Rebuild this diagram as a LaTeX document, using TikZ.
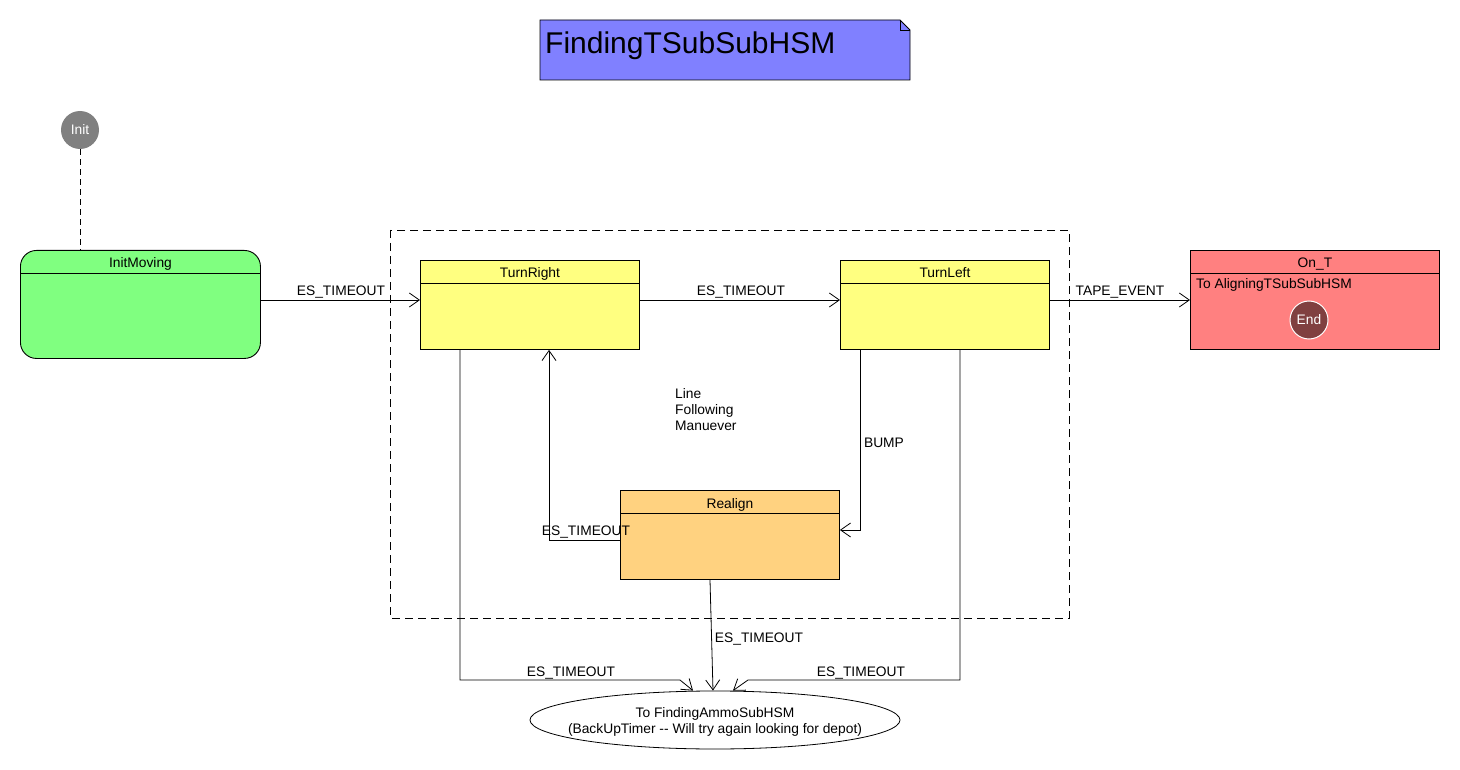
\documentclass[tikz,border=0pt]{standalone}
\usepackage{fontspec}
\setmainfont{Liberation Sans}
\usetikzlibrary{arrows.meta,shapes.geometric,calc}
\definecolor{notec}{HTML}{8080FF}
\definecolor{greenc}{HTML}{80FF80}
\definecolor{yellowc}{HTML}{FFFF80}
\definecolor{redc}{HTML}{FF8080}
\definecolor{orangec}{HTML}{FFD280}
\definecolor{initc}{HTML}{808080}
\definecolor{endc}{HTML}{804040}
\begin{document}
\begin{tikzpicture}[x=1pt,y=-1pt,
  lbl/.style={font=\fontsize{13.8}{16.5}\selectfont, inner sep=0pt, anchor=base},
  statebox/.style={draw, line width=0.9pt, inner sep=0pt, anchor=north west},
  arr/.style={-{Straight Barb[length=10pt,width=14pt,line width=0.8pt]}, line width=0.8pt},
  pseudo/.style={circle, inner sep=0pt, minimum size=38pt, text=white, font=\fontsize{13.8}{16}\selectfont}
]
\useasboundingbox (0,0) rectangle (1460,770);
\fill[white] (0,0) rectangle (1460,770);

% title note
\draw[fill=notec, line width=0.9pt] (540,20) -- (900,20) -- (910,30) -- (910,80) -- (540,80) -- cycle;
\draw[line width=0.7pt] (900,20) -- (900,30) -- (910,30);
\node[font=\fontsize{30}{36}\selectfont, anchor=base west, inner sep=0pt] (title) at (545,54) {FindingTSubSubHSM};

% region
\draw[line width=0.8pt, dash pattern=on 8pt off 5pt] (390,230) rectangle (1069,618);
\node[lbl, anchor=base west] (lfm1) at (675,398) {Line};
\node[lbl, anchor=base west] (lfm2) at (675,414) {Following};
\node[lbl, anchor=base west] (lfm3) at (675,430) {Manuever};

% init
\node[pseudo, fill=initc] (init) at (80,130) {Init};

% InitMoving
\node[statebox, fill=greenc, rounded corners=16pt, minimum width=240pt, minimum height=108pt] (im) at (20,250) {};
\draw[line width=0.8pt] ([yshift=-23pt]im.north west) -- ([yshift=-23pt]im.north east);
\node[lbl] (imh) at ([yshift=-18pt]im.north) {InitMoving};

% TurnRight
\node[statebox, fill=yellowc, minimum width=219pt, minimum height=89pt] (tr) at (420,260) {};
\draw[line width=0.8pt] ([yshift=-23pt]tr.north west) -- ([yshift=-23pt]tr.north east);
\node[lbl] (trh) at ([yshift=-18pt]tr.north) {TurnRight};

% TurnLeft
\node[statebox, fill=yellowc, minimum width=209pt, minimum height=89pt] (tl) at (840,260) {};
\draw[line width=0.8pt] ([yshift=-23pt]tl.north west) -- ([yshift=-23pt]tl.north east);
\node[lbl] (tlh) at ([yshift=-18pt]tl.north) {TurnLeft};

% On_T
\node[statebox, fill=redc, minimum width=249pt, minimum height=99pt] (ont) at (1190,250) {};
\draw[line width=0.8pt] ([yshift=-23pt]ont.north west) -- ([yshift=-23pt]ont.north east);
\node[lbl] (onth) at ([yshift=-18pt]ont.north) {On\_T};
\node[lbl, anchor=base west] (ontt) at (1196,289) {To AligningTSubSubHSM};
\node[pseudo, fill=endc, draw=white, line width=1pt] (end) at (1309,320) {End};

% Realign
\node[statebox, fill=orangec, minimum width=219pt, minimum height=89pt] (rl) at (620,490) {};
\draw[line width=0.8pt] ([yshift=-23pt]rl.north west) -- ([yshift=-23pt]rl.north east);
\node[lbl] (rlh) at ([yshift=-18pt]rl.north) {Realign};

% final ellipse
\node[ellipse, draw, line width=0.8pt, fill=white, minimum width=370pt, minimum height=58pt, inner sep=0pt] (el) at (715,720) {};
\node[lbl] (elt1) at (715,717) {To FindingAmmoSubHSM};
\node[lbl] (elt2) at (715,733) {(BackUpTimer -{}- Will try again looking for depot)};

% connectors
\draw[line width=0.8pt, dash pattern=on 6pt off 4pt] (init.south) -- (init.south |- im.north);
\draw[arr] (im.east |- 0,300) -- (tr.west |- 0,300);
\draw[arr] (tr.east |- 0,300) -- (tl.west |- 0,300);
\draw[arr] (tl.east |- 0,300) -- (ont.west |- 0,300);
\draw[arr] (tl.south -| 860,0) |- (rl.east |- 0,530);
\draw[arr] (rl.west |- 0,540) -| (tr.south -| 549,0);
\coordinate (b1) at (680,680);
\coordinate (b3) at (748,680);
\draw[arr] (tr.south -| 460,0) |- (b1) -- ([xshift=-22pt]el.north);
\draw[arr] (rl.south -| 710,0) -- ([xshift=-2pt]el.north);
\draw[arr] (tl.south -| 960,0) |- (b3) -- ([xshift=18pt]el.north);

% labels
\node[lbl] (l1) at (341,296) {ES\_TIMEOUT};
\node[lbl] (l2) at (741,296) {ES\_TIMEOUT};
\node[lbl] (l3) at (1120,296) {TAPE\_EVENT};
\node[lbl] (l4) at (884,447) {BUMP};
\node[lbl] (l5) at (586,535) {ES\_TIMEOUT};
\node[lbl] (l6) at (759,642) {ES\_TIMEOUT};
\node[lbl] (l7) at (571,676) {ES\_TIMEOUT};
\node[lbl] (l8) at (861,676) {ES\_TIMEOUT};
\end{tikzpicture}
\end{document}
